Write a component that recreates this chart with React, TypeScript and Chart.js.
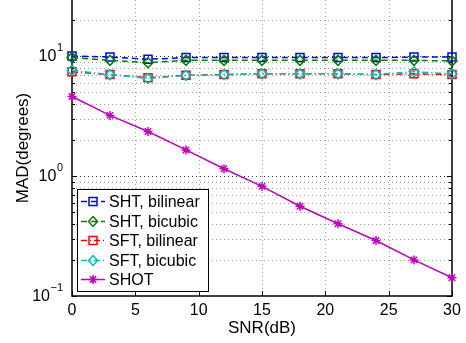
import React, { useEffect, useRef } from 'react';
import { Chart, registerables } from 'chart.js';

Chart.register(...registerables);

const snr = [0, 3, 6, 9, 12, 15, 18, 21, 24, 27, 30];
const shtBilinear = [10.0, 9.8, 9.4, 9.7, 9.7, 9.7, 9.7, 9.7, 9.7, 9.8, 9.8];
const shtBicubic = [9.7, 9.2, 8.8, 9.2, 9.2, 9.2, 9.2, 9.2, 9.2, 9.2, 9.1];
const sftBilinear = [7.4, 7.0, 6.6, 6.9, 7.0, 7.1, 7.1, 7.1, 7.0, 7.1, 7.0];
const sftBicubic = [7.6, 7.0, 6.5, 6.9, 7.0, 7.1, 7.1, 7.1, 7.0, 7.4, 7.1];
const shot = [4.6, 3.2, 2.35, 1.65, 1.15, 0.82, 0.56, 0.4, 0.29, 0.2, 0.142];

const seriesNames = ['SHT, bilinear', 'SHT, bicubic', 'SFT, bilinear', 'SFT, bicubic', 'SHOT'];
const xTicks = [0, 5, 10, 15, 20, 25, 30];
const yMajor = [0.1, 1, 10];
const yExponents = ['\u22121', '0', '1'];
const xTitle = 'SNR(dB)';
const yTitle = 'MAD(degrees)';

const X_MIN = 0;
const X_MAX = 30;
const Y_MIN = 0.1;
const Y_MAX = 29.3;

const FONT = '"Liberation Sans", Arial, Helvetica, sans-serif';

type Style = { color: string; dash: number[]; marker: 'square' | 'diamond' | 'star' };
const styles: Style[] = [
  { color: '#0000ff', dash: [6, 4], marker: 'square' },
  { color: '#008000', dash: [6, 4], marker: 'diamond' },
  { color: '#ff0000', dash: [6, 3, 1, 3], marker: 'square' },
  { color: '#00bfbf', dash: [6, 3, 1, 3], marker: 'diamond' },
  { color: '#c000c0', dash: [], marker: 'star' },
];
const seriesValues = [shtBilinear, shtBicubic, sftBilinear, sftBicubic, shot];

function drawMarker(ctx: CanvasRenderingContext2D, kind: string, x: number, y: number, color: string) {
  ctx.save();
  ctx.setLineDash([]);
  ctx.strokeStyle = color;
  ctx.lineWidth = 1.5;
  ctx.beginPath();
  if (kind === 'square') {
    ctx.rect(x - 4, y - 4, 8, 8);
  } else if (kind === 'diamond') {
    ctx.moveTo(x, y - 5);
    ctx.lineTo(x + 4.5, y);
    ctx.lineTo(x, y + 5);
    ctx.lineTo(x - 4.5, y);
    ctx.closePath();
  } else {
    const r = 4.5;
    for (let k = 0; k < 4; k++) {
      const a = (k * Math.PI) / 4;
      ctx.moveTo(x - r * Math.cos(a), y - r * Math.sin(a));
      ctx.lineTo(x + r * Math.cos(a), y + r * Math.sin(a));
    }
  }
  ctx.stroke();
  ctx.restore();
}

const matlabPlugin = {
  id: 'matlabAxes',
  beforeDatasetsDraw(chart: any) {
    const { ctx, chartArea: a, scales } = chart;
    const xs = scales.x;
    const ys = scales.y;
    ctx.save();
    ctx.lineWidth = 1;
    // vertical grid
    ctx.setLineDash([1, 3]);
    ctx.strokeStyle = '#a0a0a0';
    for (const t of xTicks) {
      if (t === X_MIN || t === X_MAX) continue;
      const px = Math.round(xs.getPixelForValue(t)) + 0.5;
      ctx.beginPath();
      ctx.moveTo(px, a.top);
      ctx.lineTo(px, a.bottom);
      ctx.stroke();
    }
    // horizontal grid (log, major + minor)
    for (const d of yMajor) {
      for (let m = 1; m <= 9; m++) {
        const v = m * d;
        if (v <= Y_MIN * 1.0001 || v >= Y_MAX) continue;
        const py = Math.round(ys.getPixelForValue(v)) + 0.5;
        ctx.strokeStyle = m === 1 ? '#404040' : '#9a9a9a';
        ctx.beginPath();
        ctx.moveTo(a.left, py);
        ctx.lineTo(a.right, py);
        ctx.stroke();
      }
    }
    ctx.setLineDash([]);
    // inward ticks
    ctx.strokeStyle = '#000';
    ctx.lineWidth = 1;
    for (const t of xTicks) {
      const px = Math.round(xs.getPixelForValue(t)) + 0.5;
      ctx.beginPath();
      ctx.moveTo(px, a.bottom);
      ctx.lineTo(px, a.bottom - 5);
      ctx.stroke();
    }
    for (const d of yMajor) {
      for (let m = 1; m <= 9; m++) {
        const v = m * d;
        if (v < Y_MIN * 0.999 || v >= Y_MAX) continue;
        const py = Math.round(ys.getPixelForValue(v)) + 0.5;
        const len = m === 1 ? 5 : 3;
        ctx.beginPath();
        ctx.moveTo(a.left, py);
        ctx.lineTo(a.left + len, py);
        ctx.moveTo(a.right, py);
        ctx.lineTo(a.right - len, py);
        ctx.stroke();
      }
    }
    // frame (left, bottom, right)
    ctx.lineWidth = 1.5;
    ctx.beginPath();
    ctx.moveTo(a.left, a.top);
    ctx.lineTo(a.left, a.bottom);
    ctx.lineTo(a.right, a.bottom);
    ctx.lineTo(a.right, a.top);
    ctx.stroke();

    // tick labels
    ctx.fillStyle = '#000';
    ctx.font = `16px ${FONT}`;
    ctx.textAlign = 'center';
    ctx.textBaseline = 'middle';
    for (const t of xTicks) {
      ctx.fillText(String(t), xs.getPixelForValue(t), a.bottom + 15);
    }
    for (let i = 0; i < yMajor.length; i++) {
      const py = ys.getPixelForValue(yMajor[i]);
      ctx.font = `11px ${FONT}`;
      const ew = ctx.measureText(yExponents[i]).width;
      const right = a.left - 9;
      ctx.textAlign = 'left';
      ctx.fillText(yExponents[i], right - ew, py - 8);
      ctx.font = `16px ${FONT}`;
      ctx.textAlign = 'right';
      ctx.fillText('10', right - ew - 0.5, py + 1);
    }
    // titles
    ctx.font = `17px ${FONT}`;
    ctx.textAlign = 'center';
    ctx.fillText(xTitle, (a.left + a.right) / 2, a.bottom + 32);
    ctx.save();
    ctx.translate(23, (a.top + a.bottom) / 2);
    ctx.rotate(-Math.PI / 2);
    ctx.fillText(yTitle, 0, 0);
    ctx.restore();
    ctx.restore();
  },
  afterDatasetsDraw(chart: any) {
    const { ctx, chartArea: a } = chart;
    ctx.save();
    const bx = a.left + 5;
    const by = 189;
    const bw = 131;
    const bh = 102;
    ctx.fillStyle = '#fff';
    ctx.fillRect(bx, by, bw, bh);
    ctx.strokeStyle = '#000';
    ctx.lineWidth = 1;
    ctx.setLineDash([]);
    ctx.strokeRect(bx + 0.5, by + 0.5, bw, bh);
    ctx.font = `16px ${FONT}`;
    ctx.textAlign = 'left';
    ctx.textBaseline = 'middle';
    for (let i = 0; i < seriesNames.length; i++) {
      const cy = Math.round(by + 12 + i * 19.5) + 0.5;
      const st = styles[i];
      ctx.strokeStyle = st.color;
      ctx.lineWidth = 1.5;
      ctx.setLineDash(st.dash);
      ctx.beginPath();
      ctx.moveTo(bx + 4, cy);
      ctx.lineTo(bx + 28, cy);
      ctx.stroke();
      drawMarker(ctx, st.marker, bx + 16, cy, st.color);
      ctx.fillStyle = '#000';
      ctx.fillText(seriesNames[i], bx + 32, cy + 1);
    }
    ctx.restore();
  },
};

export default function App() {
  const ref = useRef<HTMLCanvasElement | null>(null);
  useEffect(() => {
    if (!ref.current) return;
    const pointStyles: Record<string, string> = { square: 'rect', diamond: 'rectRot', star: 'star' };
    const pointRadius: Record<string, number> = { square: 5.66, diamond: 5, star: 4.5 };
    const datasets = seriesNames.map((name, i) => ({
      label: name,
      data: snr.map((x, j) => ({ x, y: seriesValues[i][j] })),
      borderColor: styles[i].color,
      backgroundColor: 'rgba(0,0,0,0)',
      borderWidth: 1.5,
      borderDash: styles[i].dash,
      pointStyle: pointStyles[styles[i].marker],
      pointRadius: pointRadius[styles[i].marker],
      pointBorderColor: styles[i].color,
      pointBackgroundColor: 'rgba(0,0,0,0)',
      pointBorderWidth: 1.5,
      tension: 0,
      clip: false as const,
      order: seriesNames.length - i,
    }));
    const chart = new Chart(ref.current, {
      type: 'line',
      data: { datasets },
      options: {
        animation: false,
        responsive: false,
        devicePixelRatio: 1,
        layout: { autoPadding: false, padding: { left: 0, right: 14, top: 0, bottom: 0 } },
        plugins: { legend: { display: false }, tooltip: { enabled: false } },
        scales: {
          x: {
            type: 'linear',
            min: X_MIN,
            max: X_MAX,
            grid: { display: false },
            border: { display: false },
            ticks: { display: false },
            afterFit: (s: any) => {
              s.height = 47;
            },
          },
          y: {
            type: 'logarithmic',
            min: Y_MIN,
            max: Y_MAX,
            grid: { display: false },
            border: { display: false },
            ticks: { display: false },
            afterFit: (s: any) => {
              s.width = 72;
            },
          },
        },
      },
      plugins: [matlabPlugin],
    });
    return () => chart.destroy();
  }, []);
  return (
    <div style={{ position: 'absolute', left: 0, top: 0, width: 466, height: 343, background: '#fff' }}>
      <canvas ref={ref} width={466} height={343} style={{ display: 'block' }} />
    </div>
  );
}
